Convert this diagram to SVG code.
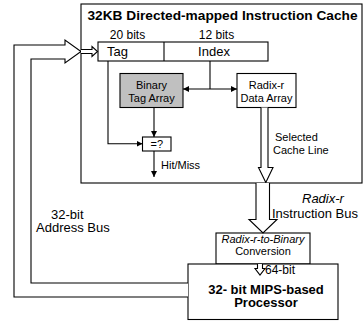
<svg xmlns="http://www.w3.org/2000/svg" width="363" height="325" viewBox="0 0 363 325">
  <style>
    .box { fill: #ffffff; stroke: #000000; stroke-width: 1.1; }
    .gray { fill: #c0c0c0; stroke: #000000; stroke-width: 1.1; }
    .ln { fill: none; stroke: #000000; stroke-width: 1.1; }
    .bus { fill: #ffffff; stroke: #000000; stroke-width: 1.1; stroke-linejoin: miter; }
    text { font-family: "Liberation Sans", Arial, sans-serif; fill: #000000; }
    .t11 { font-size: 11px; }
    .t12 { font-size: 12px; }
    .t13 { font-size: 13px; }
    .b { font-weight: bold; }
    .i { font-style: italic; }
    .c { text-anchor: middle; }
  </style>
  <defs>
    <marker id="tri" viewBox="0 0 8 8" refX="8" refY="4" markerWidth="6" markerHeight="6" markerUnits="userSpaceOnUse" orient="auto-start-reverse">
      <path d="M0,0 L8,4 L0,8 z" fill="#000000"/>
    </marker>
  </defs>

  <!-- instruction cache frame -->
  <g id="cache">
    <rect class="box" x="81" y="4" width="281" height="179"/>
    <text class="t13 b" x="87.5" y="20" textLength="270" lengthAdjust="spacingAndGlyphs">32KB Directed-mapped Instruction Cache</text>
  </g>

  <!-- address register split into tag and index fields -->
  <g id="address">
    <rect class="box" x="98" y="42" width="170" height="19"/>
    <line class="ln" x1="164" y1="42" x2="164" y2="61"/>
    <text class="t12 c" x="127.5" y="39">20 bits</text>
    <text class="t12 c" x="216.5" y="39">12 bits</text>
    <text class="t13" x="107" y="56">Tag</text>
    <text class="t13 c" x="214" y="56">Index</text>
  </g>

  <g id="tag-array">
    <rect class="gray" x="120" y="73.5" width="63" height="34"/>
    <text class="t11 c" x="151.5" y="89">Binary</text>
    <text class="t11 c" x="151.5" y="102">Tag Array</text>
  </g>

  <g id="data-array">
    <rect class="box" x="237" y="73.5" width="59" height="34"/>
    <text class="t11 c" x="266.5" y="89">Radix-r</text>
    <text class="t11 c" x="266.5" y="102">Data Array</text>
  </g>

  <g id="compare">
    <rect class="box" x="142.5" y="137" width="28.5" height="14"/>
    <text class="t11 c" x="156.8" y="148">=?</text>
  </g>

  <g id="conversion">
    <rect class="box" x="216" y="233" width="94" height="31"/>
    <text class="t11 i c" x="263" y="242.5">Radix-r-to-Binary</text>
    <text class="t11 c" x="263" y="255">Conversion</text>
  </g>

  <g id="processor">
    <rect class="box" x="188" y="264" width="150" height="55.5"/>
    <text class="t13 b c" x="266" y="293.5">32- bit MIPS-based</text>
    <text class="t13 b c" x="266" y="307">Processor</text>
  </g>

  <g id="connectors">
    <!-- tag field to comparator -->
    <polyline class="ln" points="108,61 108,143.8 142.5,143.8" marker-end="url(#tri)"/>
    <!-- index field to both arrays -->
    <line class="ln" x1="210" y1="61" x2="210" y2="89"/>
    <line class="ln" x1="183" y1="89" x2="237" y2="89" marker-start="url(#tri)" marker-end="url(#tri)"/>
    <!-- stored tag to comparator -->
    <line class="ln" x1="154" y1="107.5" x2="154" y2="137" marker-end="url(#tri)"/>
    <!-- hit / miss output -->
    <line class="ln" x1="154" y1="151" x2="154" y2="177" marker-end="url(#tri)"/>
    <text class="t11" x="161" y="169">Hit/Miss</text>

    <!-- selected cache line (hollow arrow) -->
    <path class="bus" d="M261,107.5 V167.5 H258.5 L265.8,182.5 L273,167.5 H268 V107.5"/>
    <text class="t11" x="275" y="141">Selected</text>
    <text class="t11" x="273" y="154">Cache Line</text>

    <!-- radix-r instruction bus (hollow arrow) -->
    <path class="bus" d="M256,183 V219.5 H249 L263,233 L277,219.5 H269.5 V183"/>
    <text class="t13 i" x="302" y="203">Radix-r</text>
    <text class="t13" x="272" y="217.5">Instruction Bus</text>

    <!-- 64-bit binary instruction into the processor -->
    <path class="bus" d="M257.5,264 V268.5 H255 L260,275 L265,268.5 H262.5 V264"/>
    <text class="t12" x="265" y="273.5">64-bit</text>

    <!-- 32-bit address bus (hollow arrow formed by two lines) -->
    <path class="bus" d="M188,297 H14 V45 H65 V40 L81,51.5 L65,63 V59 H31 V283 H188" fill="none"/>
    <path class="bus" d="M81,49.5 H92 V46.5 L97.5,51.5 L92,56.5 V53.5 H81"/>
    <text class="t13" x="51" y="218.5">32-bit</text>
    <text class="t13" x="36" y="232">Address Bus</text>
  </g>
</svg>
